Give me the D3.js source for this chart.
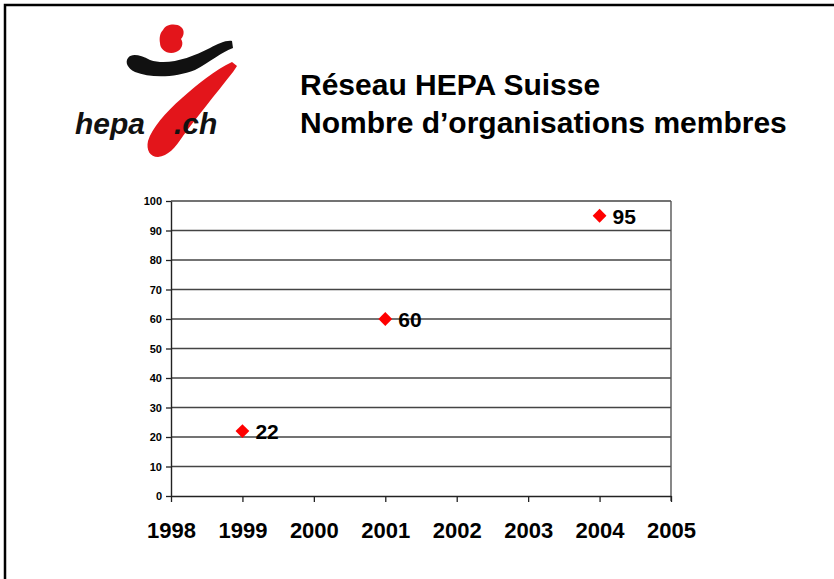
<!DOCTYPE html>
<html><head><meta charset="utf-8">
<script src="https://cdn.jsdelivr.net/npm/d3@7"></script>
<style>body{margin:0;background:#fff}svg{display:block;font-family:"Liberation Sans",Arial,sans-serif}</style>
</head><body>
<svg id="c" width="834" height="579"></svg>
<script>
const years = [1999, 2001, 2004];
const members = [22, 60, 95];
const xTicks = [1998, 1999, 2000, 2001, 2002, 2003, 2004, 2005];
const yTicks = [0, 10, 20, 30, 40, 50, 60, 70, 80, 90, 100];
const titleLines = ["Réseau HEPA Suisse", "Nombre d’organisations membres"];

const svg = d3.select("#c");
// slide frame
svg.append("path").attr("d", "M5,579 V5 H834").attr("fill", "none").attr("stroke", "#000").attr("stroke-width", 2.5);

// logo
const logo = svg.append("g");
logo.append("path").attr("fill", "#e3151b")
  .attr("d", "M163,30 C166,24 176,23 181,27 C185,30 184,36 181,39 C184,43 182,50 176,52 C168,55 160,50 160,43 C159,38 160,33 163,30 Z");
logo.append("path").attr("fill", "#111")
  .attr("d", "M128,58 C132,53 140,55 150,60 C168,66 190,58 210,48 C218,44 226,40 232,41 L233,48 C222,52 210,62 195,70 C175,78 150,78 135,72 C127,68 125,62 128,58 Z");
logo.append("path").attr("fill", "#e3151b")
  .attr("d", "M232,62 L237,66 L233,72 C215,95 196,118 183,136 C175,148 168,156 158,157 C150,157 146,150 148,141 C152,128 165,113 182,98 C198,84 215,70 232,62 Z");
logo.append("text").attr("x", 75).attr("y", 134).attr("font-size", 30).attr("font-weight", "bold").attr("font-style", "italic").attr("fill", "#111").text("hepa");
logo.append("text").attr("x", 174).attr("y", 134).attr("font-size", 30).attr("font-weight", "bold").attr("font-style", "italic").attr("fill", "#111").text(".ch");

// title
svg.append("g").selectAll("text").data(titleLines).join("text")
  .attr("x", 300).attr("y", (d, i) => 95 + i * 38)
  .attr("font-size", 30).attr("font-weight", "bold").attr("fill", "#000").text(d => d);

const x = d3.scaleLinear().domain([1998, 2005]).range([171, 671]);
const y = d3.scaleLinear().domain([0, 100]).range([496, 201]);

// gridlines
svg.append("g").selectAll("line").data(yTicks.filter(d => d > 0)).join("line")
  .attr("x1", x(1998)).attr("x2", x(2005)).attr("y1", d => y(d)).attr("y2", d => y(d))
  .attr("stroke", "#444").attr("stroke-width", 1.4);
svg.append("line").attr("x1", x(2005)).attr("x2", x(2005)).attr("y1", y(100)).attr("y2", y(0) + 5)
  .attr("stroke", "#555").attr("stroke-width", 1.4);

// y axis
const ya = svg.append("g").attr("transform", `translate(${x(1998)},0)`)
  .call(d3.axisLeft(y).tickValues(yTicks).tickSize(5).tickSizeOuter(0));
ya.select(".domain").attr("stroke", "#222").attr("stroke-width", 1.4);
ya.selectAll(".tick line").attr("stroke", "#222").attr("stroke-width", 1.3);
ya.selectAll(".tick text").attr("font-size", 11).attr("font-weight", "bold").attr("fill", "#000")
  .attr("font-family", "Liberation Sans, Arial, sans-serif").attr("x", -9);

// x axis
const xa = svg.append("g").attr("transform", `translate(0,${y(0)})`)
  .call(d3.axisBottom(x).tickValues(xTicks).tickFormat(d3.format("d")).tickSize(6).tickSizeOuter(0));
xa.select(".domain").attr("stroke", "#222").attr("stroke-width", 1.6);
xa.selectAll(".tick line").attr("stroke", "#222").attr("stroke-width", 1.3);
xa.selectAll(".tick text").attr("font-size", 22).attr("font-weight", "bold").attr("fill", "#000")
  .attr("font-family", "Liberation Sans, Arial, sans-serif").attr("dy", 0).attr("y", 42);

// points
const pts = years.map((yr, i) => ({ yr, v: members[i] }));
svg.append("g").selectAll("path").data(pts).join("path")
  .attr("transform", d => `translate(${x(d.yr)},${y(d.v)}) rotate(45)`)
  .attr("d", d3.symbol().type(d3.symbolSquare).size(95))
  .attr("fill", "#ff0000");
svg.append("g").selectAll("text").data(pts).join("text")
  .attr("x", d => x(d.yr) + 13).attr("y", d => y(d.v) + 8)
  .attr("font-size", 21).attr("font-weight", "bold").attr("fill", "#000").text(d => d.v);
</script>
</body></html>
